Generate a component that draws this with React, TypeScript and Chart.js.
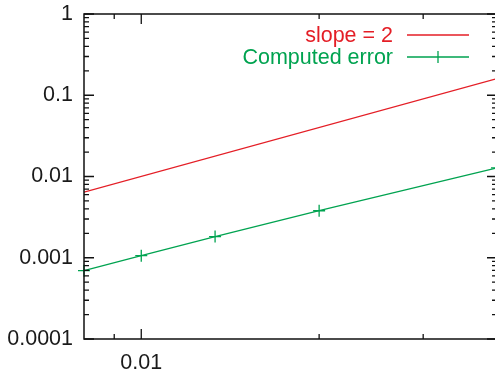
import React, { useEffect, useRef } from "react";
import { Chart, registerables } from "chart.js";

Chart.register(...registerables);

// Data
const H_VALUES = [0.008, 0.01, 0.013333, 0.02, 0.04];
const ERROR_VALUES = [0.000693, 0.00106, 0.00182, 0.00379, 0.0128];
const SLOPE_X = [0.008, 0.04];
const SLOPE_Y = [0.0064, 0.16];
const Y_TICKS = [0.0001, 0.001, 0.01, 0.1, 1];
const X_TICKS = [0.01];
const SERIES_LABELS = ["slope = 2", "Computed error"];

const X_MIN = 0.008;
const X_MAX = 0.04;
const Y_MIN = 0.0001;
const Y_MAX = 1;

const RED = "rgb(228,30,38)";
const GREEN = "rgb(0,163,80)";
const FONT_FAMILY = "'Liberation Sans', Arial, Helvetica, sans-serif";
const FONT_SIZE = 21.5;

function minorValues(min: number, max: number): number[] {
  const out: number[] = [];
  const k0 = Math.floor(Math.log10(min));
  const k1 = Math.ceil(Math.log10(max));
  for (let k = k0; k <= k1; k++) {
    for (let m = 2; m <= 9; m++) {
      const v = m * Math.pow(10, k);
      if (v > min * 1.0001 && v < max * 0.9999) out.push(v);
    }
  }
  return out;
}

const gnuplotFrame = {
  id: "gnuplotFrame",
  afterDatasetsDraw(chart: any) {
    const { ctx, chartArea, scales } = chart;
    const { left, right, top, bottom } = chartArea;
    const xs = scales.x;
    const ys = scales.y;
    ctx.save();
    ctx.strokeStyle = "#111";
    ctx.lineWidth = 1.5;
    ctx.beginPath();
    ctx.rect(left, top, right - left, bottom - top);
    ctx.stroke();

    const MAJ = 10;
    const MIN = 5;
    ctx.lineWidth = 1.3;
    ctx.beginPath();
    Y_TICKS.forEach((v) => {
      const y = ys.getPixelForValue(v);
      ctx.moveTo(left, y);
      ctx.lineTo(left + MAJ, y);
      ctx.moveTo(right, y);
      ctx.lineTo(right - MAJ, y);
    });
    minorValues(Y_MIN, Y_MAX).forEach((v) => {
      const y = ys.getPixelForValue(v);
      ctx.moveTo(left, y);
      ctx.lineTo(left + MIN, y);
      ctx.moveTo(right, y);
      ctx.lineTo(right - MIN, y);
    });
    X_TICKS.forEach((v) => {
      const x = xs.getPixelForValue(v);
      ctx.moveTo(x, bottom);
      ctx.lineTo(x, bottom - MAJ);
      ctx.moveTo(x, top);
      ctx.lineTo(x, top + MAJ);
    });
    minorValues(X_MIN, X_MAX).forEach((v) => {
      const x = xs.getPixelForValue(v);
      ctx.moveTo(x, bottom);
      ctx.lineTo(x, bottom - MIN);
      ctx.moveTo(x, top);
      ctx.lineTo(x, top + MIN);
    });
    ctx.stroke();

    // legend (gnuplot style)
    ctx.font = `${FONT_SIZE}px ${FONT_FAMILY}`;
    ctx.textAlign = "right";
    ctx.textBaseline = "middle";
    const colors = [RED, GREEN];
    const textRight = right - 104;
    const sampleL = right - 90;
    const sampleR = right - 28;
    SERIES_LABELS.forEach((lab, i) => {
      const y = top + 21 + i * 22;
      ctx.fillStyle = colors[i];
      ctx.fillText(lab, textRight, y + 1);
      ctx.strokeStyle = colors[i];
      ctx.lineWidth = 1.3;
      ctx.beginPath();
      ctx.moveTo(sampleL, y);
      ctx.lineTo(sampleR, y);
      if (i === 1) {
        const cx = (sampleL + sampleR) / 2;
        ctx.moveTo(cx - 6, y);
        ctx.lineTo(cx + 6, y);
        ctx.moveTo(cx, y - 6);
        ctx.lineTo(cx, y + 6);
      }
      ctx.stroke();
    });
    ctx.restore();
  },
};

export default function App() {
  const ref = useRef<HTMLCanvasElement | null>(null);

  useEffect(() => {
    document.body.style.margin = "0";
    document.body.style.overflow = "hidden";
    const canvas = ref.current;
    if (!canvas) return;
    const chart = new Chart(canvas, {
      type: "line",
      data: {
        datasets: [
          {
            label: SERIES_LABELS[0],
            data: SLOPE_X.map((x, i) => ({ x, y: SLOPE_Y[i] })),
            borderColor: RED,
            borderWidth: 1.3,
            pointRadius: 0,
            fill: false,
            tension: 0,
          },
          {
            label: SERIES_LABELS[1],
            data: H_VALUES.map((x, i) => ({ x, y: ERROR_VALUES[i] })),
            borderColor: GREEN,
            backgroundColor: GREEN,
            borderWidth: 1.3,
            pointStyle: "cross",
            pointRadius: 6,
            pointBorderWidth: 1.3,
            pointBorderColor: GREEN,
            fill: false,
            tension: 0,
            clip: false as any,
          },
        ],
      },
      options: {
        responsive: false,
        animation: false,
        devicePixelRatio: 1,
        layout: { autoPadding: false, padding: { top: 14, right: 3, left: 0, bottom: 0 } },
        plugins: {
          legend: { display: false },
          tooltip: { enabled: false },
        },
        scales: {
          x: {
            type: "logarithmic",
            min: X_MIN,
            max: X_MAX,
            grid: { display: false },
            border: { display: false },
            afterBuildTicks: (s: any) => {
              s.ticks = X_TICKS.map((v) => ({ value: v }));
            },
            afterFit: (s: any) => {
              s.height = 39;
              s.paddingLeft = 0;
              s.paddingRight = 0;
            },
            ticks: {
              autoSkip: false,
              maxRotation: 0,
              padding: 3,
              color: "#1a1a1a",
              font: { family: FONT_FAMILY, size: FONT_SIZE },
              callback: (v: any) => String(v),
            },
          },
          y: {
            type: "logarithmic",
            min: Y_MIN,
            max: Y_MAX,
            grid: { display: false },
            border: { display: false },
            afterBuildTicks: (s: any) => {
              s.ticks = Y_TICKS.map((v) => ({ value: v }));
            },
            afterFit: (s: any) => {
              s.width = 84;
              s.paddingTop = 0;
              s.paddingBottom = 0;
            },
            ticks: {
              autoSkip: false,
              padding: 3,
              color: "#1a1a1a",
              font: { family: FONT_FAMILY, size: FONT_SIZE },
              callback: (v: any) => String(v),
            },
          },
        },
      },
      plugins: [gnuplotFrame],
    });
    return () => chart.destroy();
  }, []);

  return (
    <div style={{ width: 495, height: 378, overflow: "hidden", position: "relative" }}>
      <canvas ref={ref} width={500} height={378} style={{ display: "block", width: 500, height: 378 }} />
    </div>
  );
}
